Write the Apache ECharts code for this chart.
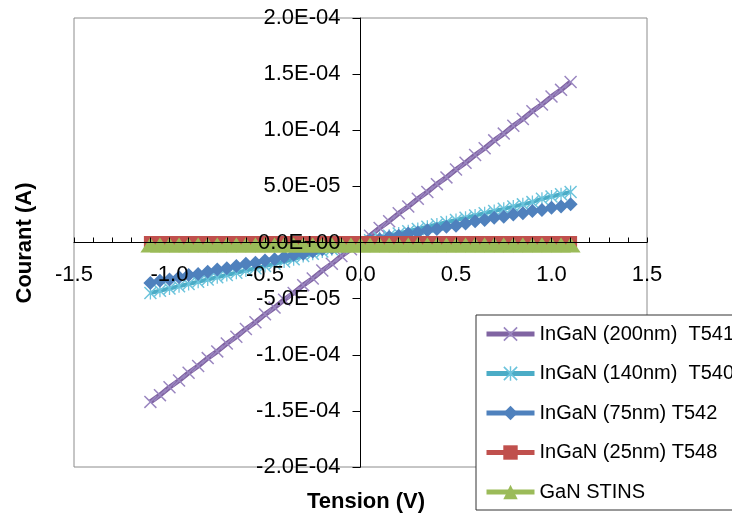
<!DOCTYPE html>
<html>
<head>
<meta charset="utf-8">
<script src="https://cdn.jsdelivr.net/npm/echarts@6/dist/echarts.min.js"></script>
<style>
html,body{margin:0;padding:0;background:#fff;}
#chart{width:732px;height:517px;}
</style>
</head>
<body>
<div id="chart"></div>
<script>
// Tension (V)
const tension = [-1.10,-1.05,-1.00,-0.95,-0.90,-0.85,-0.80,-0.75,-0.70,-0.65,-0.60,-0.55,-0.50,-0.45,-0.40,-0.35,-0.30,-0.25,-0.20,-0.15,-0.10,-0.05,0.00,
  0.05,0.10,0.15,0.20,0.25,0.30,0.35,0.40,0.45,0.50,0.55,0.60,0.65,0.70,0.75,0.80,0.85,0.90,0.95,1.00,1.05,1.10];
// Courant, in µA
const t541 = [-142,-136,-129,-123,-116,-110,-103,-97,-90,-84,-77,-71,-64,-58,-51,-45,-38,-32,-25,-19,-12,-6,0,
  6,13,19,26,32,39,45,52,58,65,71,78,84,91,97,104,110,117,123,130,136,143];
const t540 = [-45,-43,-41,-39,-37,-35,-33,-31,-29,-27,-25,-23,-21,-19,-17,-15,-12,-10,-8,-6,-4,-2,0,
  2,4,6,8,10,12,14,16,18,20,22,24,26,28,30,32,34,36,39,41,43,45];
const t542 = [-36,-34,-33,-31,-29,-28,-26,-24,-23,-21,-19,-18,-16,-15,-13,-11,-10,-8,-6,-5,-3,-2,0,
  2,3,5,6,8,9,11,12,14,15,17,19,20,22,23,25,26,28,29,31,32,34];
const t548 = [0,0,0,0,0,0,0,0,0,0,0,0,0,0,0,0,0,0,0,0,0,0,0,0,0,0,0,0,0,0,0,0,0,0,0,0,0,0,0,0,0,0,0,0,0];
const stins = [0,0,0,0,0,0,0,0,0,0,0,0,0,0,0,0,0,0,0,0,0,0,0,0,0,0,0,0,0,0,0,0,0,0,0,0,0,0,0,0,0,0,0,0,0];
const seriesNames = ['InGaN (200nm)  T541','InGaN (140nm)  T540','InGaN (75nm) T542','InGaN (25nm) T548','GaN STINS'];
const xTicks = {min:-1.5, max:1.5, interval:0.5};
const yTicks = {min:-0.0002, max:0.0002, interval:0.00005};

const FONT = '"Liberation Sans", Arial, sans-serif';
const pts = arr => tension.map((x,i)=>[x, arr[i]*1e-6]);

const X_PATH = 'path://M0,8L8,0L50,42L92,0L100,8L58,50L100,92L92,100L50,58L8,100L0,92L42,50Z';
const STAR_PATH = 'path://M0,8L8,0L50,42L92,0L100,8L58,50L100,92L92,100L50,58L8,100L0,92L42,50Z M45,0L55,0L55,100L45,100Z';

function sci(v){
  if (Math.abs(v) < 1e-12) return '0.0E+00';
  const s = v.toExponential(1).split('e');
  let e = parseInt(s[1],10);
  const sign = e < 0 ? '-' : '+';
  e = Math.abs(e);
  return s[0] + 'E' + sign + (e < 10 ? '0' + e : '' + e);
}

const GL = 74, GR = 85, GT = 18, GB = 50, W = 732, H = 517;
const gw = W - GL - GR, gh = H - GT - GB;

const chart = echarts.init(document.getElementById('chart'), null, {renderer:'canvas'});
chart.setOption({
  animation: false,
  backgroundColor: '#fff',
  textStyle: {fontFamily: FONT},
  grid: {left:GL, right:GR, top:GT, bottom:GB, show:true, borderColor:'#8c8c8c', borderWidth:1,
         containLabel:false, outerBoundsMode:'none'},
  xAxis: {
    type:'value', min:xTicks.min, max:xTicks.max, interval:xTicks.interval,
    position:'bottom', offset:-gh/2, z:10,
    axisLine:{onZero:false, lineStyle:{color:'#000', width:1}},
    axisTick:{show:true, inside:true, length:5, lineStyle:{color:'#000'}},
    minorTick:{show:true, splitNumber:5, length:5, lineStyle:{color:'#000'}},
    splitLine:{show:false},
    axisLabel:{margin:21, fontSize:22, color:'#000', fontFamily:FONT, formatter:v=>v.toFixed(1)}
  },
  yAxis: {
    type:'value', min:yTicks.min, max:yTicks.max, interval:yTicks.interval,
    position:'left', offset:-gw/2, z:10,
    axisLine:{onZero:false, lineStyle:{color:'#000', width:1}},
    axisTick:{show:true, inside:false, length:8, lineStyle:{color:'#000'}},
    splitLine:{show:false},
    axisLabel:{margin:20, fontSize:22, color:'#000', fontFamily:FONT, formatter:sci}
  },
  legend: {
    orient:'vertical', left:476, top:315, z:20,
    padding:[9,10,8,8],
    itemWidth:48, itemHeight:18, itemGap:19.5,
    backgroundColor:'#fff', borderColor:'#333', borderWidth:1,
    lineStyle:{width:5},
    textStyle:{fontSize:20, color:'#000', fontFamily:FONT},
    data: seriesNames
  },
  graphic: [
    {type:'text', x:366, y:502, style:{text:'Tension (V)', font:'bold 22px '+FONT, fill:'#000', textAlign:'center', textVerticalAlign:'middle'}},
    {type:'text', x:25, y:243, rotation:Math.PI/2, style:{text:'Courant (A)', font:'bold 22px '+FONT, fill:'#000', textAlign:'center', textVerticalAlign:'middle'}}
  ],
  series: [
    {name:seriesNames[0], type:'line', data:pts(t541), symbol:X_PATH, symbolSize:13,
     lineStyle:{color:'#8064A2', width:5}, itemStyle:{color:'#9a86c0'}, z:2},
    {name:seriesNames[1], type:'line', data:pts(t540), symbol:STAR_PATH, symbolSize:13,
     lineStyle:{color:'#4BACC6', width:4}, itemStyle:{color:'#6cc4dc'}, z:2},
    {name:seriesNames[2], type:'line', data:pts(t542), symbol:'diamond', symbolSize:14,
     lineStyle:{color:'#4F81BD', width:4}, itemStyle:{color:'#4F81BD'}, z:2},
    {name:seriesNames[3], type:'line', data:pts(t548), symbol:'rect', symbolSize:13,
     lineStyle:{color:'#C0504D', width:4}, itemStyle:{color:'#C0504D'}, z:2},
    {name:seriesNames[4], type:'line', data:pts(stins), symbol:'triangle', symbolSize:[20,15], symbolOffset:[0,2.5],
     lineStyle:{color:'#9BBB59', width:4}, itemStyle:{color:'#9BBB59'}, z:2}
  ]
});
</script>
</body>
</html>
